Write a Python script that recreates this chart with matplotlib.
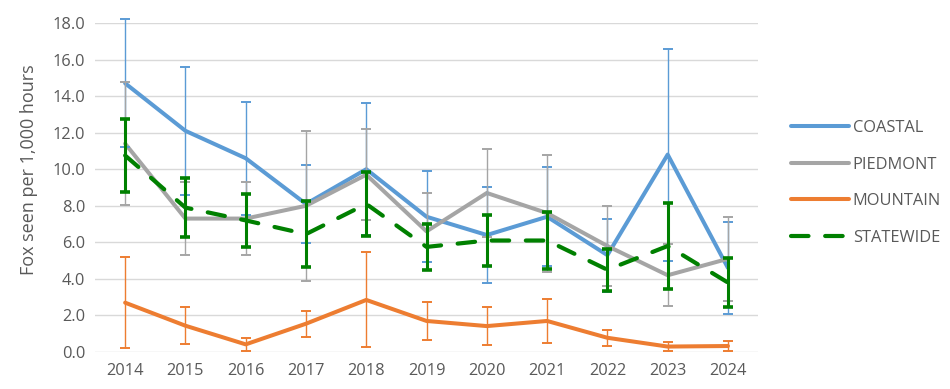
import matplotlib
matplotlib.use("Agg")
import matplotlib.pyplot as plt
from matplotlib.lines import Line2D

years = ["2014", "2015", "2016", "2017", "2018", "2019", "2020", "2021", "2022", "2023", "2024"]

coastal = [14.7, 12.1, 10.6, 8.1, 10.0, 7.4, 6.4, 7.4, 5.3, 10.8, 4.6]
coastal_err = [3.5, 3.5, 3.1, 2.15, 3.6, 2.5, 2.6, 2.7, 2.0, 5.8, 2.5]

piedmont = [11.4, 7.3, 7.3, 8.0, 9.7, 6.6, 8.7, 7.6, 5.8, 4.2, 5.1]
piedmont_err = [3.35, 2.0, 2.0, 4.1, 2.5, 2.1, 2.4, 3.2, 2.2, 1.7, 2.3]

mountain = [2.7, 1.44, 0.42, 1.55, 2.85, 1.7, 1.42, 1.7, 0.78, 0.3, 0.33]
mountain_err = [2.5, 1.0, 0.37, 0.72, 2.6, 1.03, 1.05, 1.2, 0.45, 0.25, 0.3]

statewide = [10.75, 7.9, 7.2, 6.45, 8.1, 5.75, 6.1, 6.1, 4.5, 5.8, 3.8]
statewide_err = [2.0, 1.6, 1.46, 1.8, 1.75, 1.25, 1.37, 1.55, 1.15, 2.35, 1.35]

series_names = ["COASTAL", "PIEDMONT", "MOUNTAIN", "STATEWIDE"]
colors = ["#5B9BD5", "#A5A5A5", "#ED7D31", "#008000"]
yticks = [0, 2, 4, 6, 8, 10, 12, 14, 16, 18]

plt.rcParams['font.family'] = ['Open Sans', 'DejaVu Sans']

fig = plt.figure(figsize=(9.5, 3.89), dpi=100)
ax = fig.add_axes([0.1, 0.095, 0.698, 0.846])

x = list(range(len(years)))
text_color = "#595959"
fs = 11.8
dash = (0, (4.2, 4.0))

for vals, errs, col in [(coastal, coastal_err, colors[0]),
                        (piedmont, piedmont_err, colors[1]),
                        (mountain, mountain_err, colors[2])]:
    ax.plot(x, vals, color=col, lw=2.9, solid_capstyle="round", solid_joinstyle="round", zorder=3)
    eb = ax.errorbar(x, vals, yerr=errs, fmt="none", ecolor=col, elinewidth=1.0,
                     capsize=3.5, capthick=1.4, zorder=4)
    for c in eb.lines[1]:
        c.set_clip_on(False)
    for c in eb.lines[2]:
        c.set_clip_on(False)

ax.plot(x, statewide, color=colors[3], lw=3.0, linestyle=dash,
        dash_capstyle="round", zorder=5)
eb = ax.errorbar(x, statewide, yerr=statewide_err, fmt="none", ecolor=colors[3],
                 elinewidth=2.2, capsize=3.3, capthick=2.6, zorder=6)

ax.set_xlim(-0.5, len(years) - 0.5)
ax.set_ylim(0, 18)
ax.set_yticks(yticks)
ax.set_yticklabels([f"{v:.1f}" for v in yticks])
ax.set_xticks(x)
ax.set_xticklabels(years)
ax.yaxis.grid(True, color="#D9D9D9", lw=1.0, zorder=0)
ax.set_axisbelow(True)
for s in ax.spines.values():
    s.set_visible(False)
ax.tick_params(axis="both", length=0, colors=text_color, labelsize=fs)
ax.tick_params(axis="x", pad=8)
ax.tick_params(axis="y", pad=7)
ax.set_ylabel("Fox seen per 1,000 hours", color=text_color, fontsize=13)
ax.yaxis.set_label_coords(-0.086, 0.555)

handles = [Line2D([0], [0], color=colors[0], lw=2.9, solid_capstyle="round"),
           Line2D([0], [0], color=colors[1], lw=2.9, solid_capstyle="round"),
           Line2D([0], [0], color=colors[2], lw=2.9, solid_capstyle="round"),
           Line2D([0], [0], color=colors[3], lw=3.0, linestyle=dash, dash_capstyle="round")]
leg = fig.legend(handles, series_names, loc="center left", bbox_to_anchor=(0.833, 0.53),
                 frameon=False, fontsize=fs, handlelength=3.5, handletextpad=0.25,
                 labelspacing=1.25, labelcolor=text_color, borderaxespad=0, borderpad=0)

fig.savefig("out.png", dpi=100)
